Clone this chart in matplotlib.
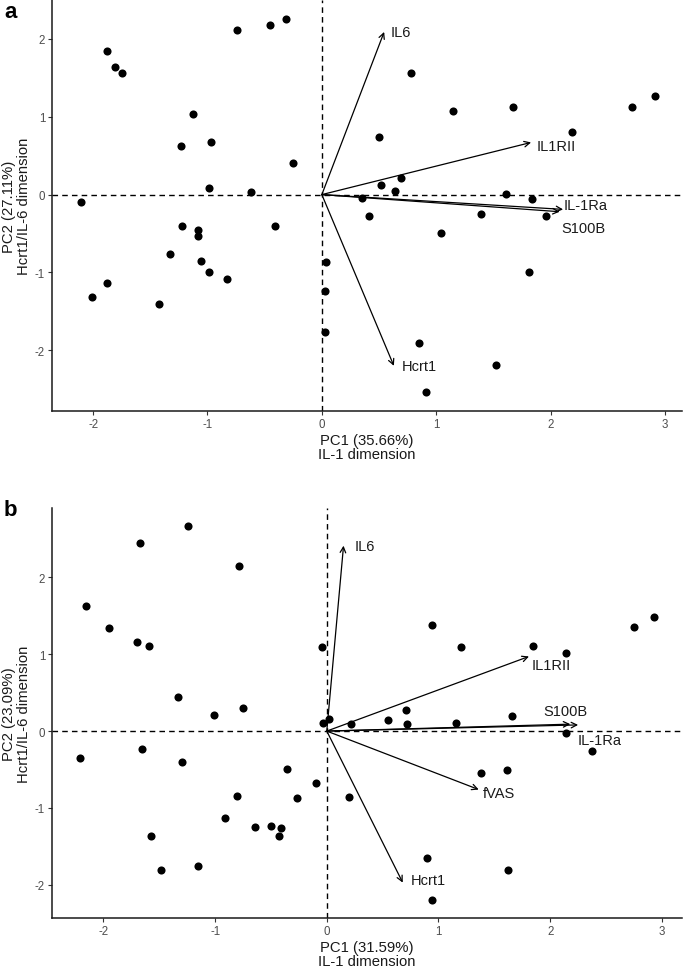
import matplotlib
matplotlib.use("Agg")
import matplotlib.pyplot as plt

plt.rcParams['font.family'] = ['Liberation Sans', 'DejaVu Sans']

# ---------------- Panel a data ----------------
a_pc1 = [-2.11, -1.88, -1.81, -1.75, -0.74, -0.45, -0.31, -1.13, -1.23, -0.97, -0.25,
         -0.99, -0.62, -1.22, -1.08, -1.08, -0.41, -1.33, -1.06, -0.99, -0.83, -1.88,
         -2.01, -1.42, 0.04, 0.03, 0.03,
         0.78, 1.15, 1.67, 2.71, 2.91, 2.19, 0.50, 0.69, 0.52, 0.64, 0.35, 1.61, 1.84,
         0.41, 1.39, 1.96, 1.04, 1.81, 0.85, 1.52, 0.91]
a_pc2 = [-0.10, 1.84, 1.64, 1.56, 2.11, 2.18, 2.25, 1.04, 0.62, 0.67, 0.40,
         0.08, 0.03, -0.40, -0.45, -0.53, -0.40, -0.76, -0.85, -1.00, -1.09, -1.13,
         -1.31, -1.41, -0.86, -1.24, -1.76,
         1.56, 1.07, 1.13, 1.13, 1.27, 0.81, 0.74, 0.21, 0.12, 0.05, -0.05, 0.01, -0.06,
         -0.27, -0.25, -0.27, -0.49, -1.00, -1.90, -2.19, -2.54]
a_vars = ["IL6", "IL1RII", "IL-1Ra", "S100B", "Hcrt1"]
a_load_x = [0.545, 1.83, 2.11, 2.08, 0.63]
a_load_y = [2.09, 0.67, -0.19, -0.22, -2.20]
a_xlabel = "PC1 (35.66%)\nIL-1 dimension"
a_ylabel = "PC2 (27.11%)\nHcrt1/IL-6 dimension"

# ---------------- Panel b data ----------------
b_pc1 = [-2.16, -1.95, -1.70, -1.59, -1.67, -1.24, -0.79, -1.33, -1.01, -0.75, -0.04,
         -0.03, 0.02, -2.21, -1.65, -1.30, -0.36, -0.10, -0.27, -0.80, -0.91, -0.64,
         -0.50, -0.41, -0.43, -1.57, -1.48, -1.15,
         0.94, 1.20, 1.85, 2.14, 2.75, 2.93, 0.22, 0.55, 0.71, 0.72, 1.16, 1.66,
         2.14, 2.37, 1.38, 1.61, 0.20, 0.90, 1.62, 0.94]
b_pc2 = [1.63, 1.34, 1.16, 1.10, 2.45, 2.66, 2.15, 0.44, 0.21, 0.30, 1.09,
         0.11, 0.16, -0.35, -0.23, -0.40, -0.49, -0.68, -0.87, -0.84, -1.13, -1.25,
         -1.24, -1.26, -1.37, -1.36, -1.81, -1.76,
         1.38, 1.09, 1.10, 1.02, 1.35, 1.48, 0.09, 0.15, 0.28, 0.09, 0.10, 0.19,
         -0.03, -0.26, -0.55, -0.50, -0.86, -1.65, -1.81, -2.19]
b_vars = ["IL6", "IL1RII", "S100B", "IL-1Ra", "fVAS", "Hcrt1"]
b_load_x = [0.15, 1.81, 2.18, 2.25, 1.36, 0.68]
b_load_y = [2.41, 0.97, 0.09, 0.08, -0.76, -1.97]
b_xlabel = "PC1 (31.59%)\nIL-1 dimension"
b_ylabel = "PC2 (23.09%)\nHcrt1/IL-6 dimension"

# label offsets (pixels) relative to arrow tips
a_label_off = {"IL6": (6, 0), "IL1RII": (6, -4), "IL-1Ra": (1, 4),
               "S100B": (2, -16), "Hcrt1": (8, 0)}
b_label_off = {"IL6": (11, 0), "IL1RII": (3, -9), "S100B": (-27, 13),
               "IL-1Ra": (0, -15), "fVAS": (4, -3), "Hcrt1": (8, 3)}

W, H = 685, 970
fig = plt.figure(figsize=(W / 100, H / 100), dpi=100)


def make_panel(rect, xs, ys, vx, vy, names, offs, xlab, ylab, xlim, ylim, tag, tag_xy):
    ax = fig.add_axes(rect)
    ax.axhline(0, color='black', lw=1.0, ls=(0, (4, 3)), zorder=1)
    ax.axvline(0, color='black', lw=1.0, ls=(0, (4, 3)), zorder=1)
    ax.scatter(xs, ys, s=34, color='black', zorder=3, linewidths=0)
    for n, x, y in zip(names, vx, vy):
        ax.annotate('', xy=(x, y), xytext=(0, 0),
                    arrowprops=dict(arrowstyle='->', lw=0.9, color='black',
                                    shrinkA=0, shrinkB=0, mutation_scale=10),
                    zorder=2)
        dx, dy = offs[n]
        ax.annotate(n, xy=(x, y), xytext=(dx, dy), textcoords='offset pixels',
                    ha='left', va='center', fontsize=10.5, color='#1a1a1a')
    ax.set_xlim(*xlim)
    ax.set_ylim(*ylim)
    ax.set_xticks([-2, -1, 0, 1, 2, 3])
    ax.set_xticklabels(['-2', '-1', '0', '1', '2', '3'])
    ax.set_yticks([-2, -1, 0, 1, 2])
    ax.set_yticklabels(['-2', '-1', '0', '1', '2'])
    for s in ['top', 'right']:
        ax.spines[s].set_visible(False)
    for s in ['left', 'bottom']:
        ax.spines[s].set_color('#1a1a1a')
        ax.spines[s].set_linewidth(1.1)
    ax.tick_params(direction='out', length=3, width=0.8, colors='#333333',
                   labelcolor='#4d4d4d', labelsize=8.3, pad=2)
    ax.set_xlabel(xlab, fontsize=10.7, color='#1a1a1a', labelpad=2, linespacing=1.05)
    ax.set_ylabel(ylab, fontsize=10.7, color='#1a1a1a', labelpad=3, linespacing=1.05)
    fig.text(tag_xy[0] / W, 1 - tag_xy[1] / H, tag, fontsize=16, fontweight='bold',
             ha='left', va='center')
    return ax


make_panel([52 / W, 1 - 412 / H, 630 / W, 411 / H], a_pc1, a_pc2, a_load_x, a_load_y,
           a_vars, a_label_off, a_xlabel, a_ylabel, (-2.36, 3.15), (-2.78, 2.5), 'a', (4, 13))
make_panel([52 / W, 1 - 919 / H, 630 / W, 410 / H], b_pc1, b_pc2, b_load_x, b_load_y,
           b_vars, b_label_off, b_xlabel, b_ylabel, (-2.46, 3.18), (-2.43, 2.9), 'b', (4, 511))

fig.savefig('out.png', dpi=100)
